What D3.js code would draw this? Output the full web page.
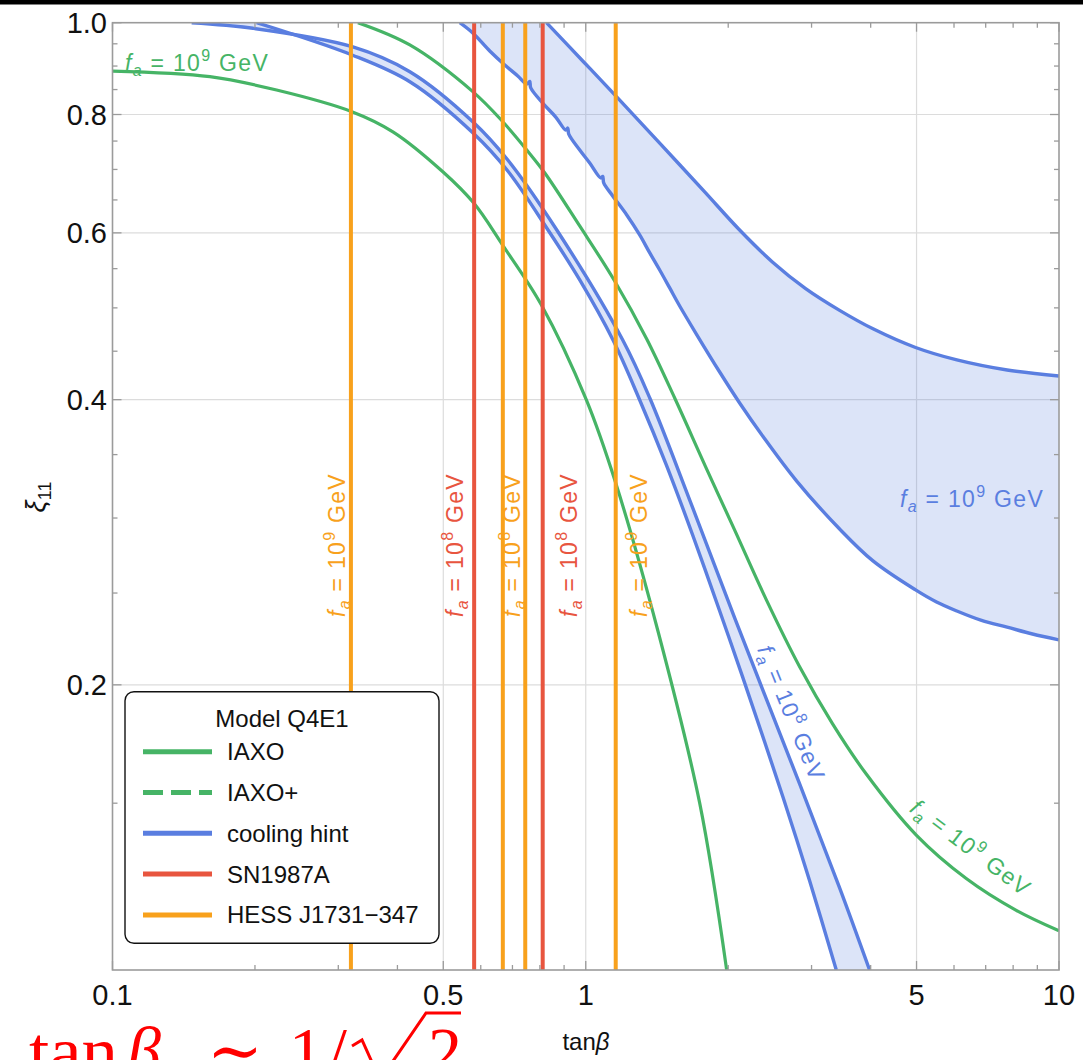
<!DOCTYPE html>
<html><head><meta charset="utf-8">
<script src="https://cdn.jsdelivr.net/npm/d3@7"></script>
<style>
body{margin:0;background:#fff;overflow:hidden}
svg{display:block}
.sans{font-family:"Liberation Sans",Arial,sans-serif}
.serif{font-family:"Liberation Serif","DejaVu Serif",serif}
</style>
</head><body>
<svg id="c" width="1083" height="1060"></svg>
<script>
// ---------------- data ----------------
const xTicksMajor = [0.1, 0.5, 1, 5, 10];
const xTickLabels = ["0.1", "0.5", "1", "5", "10"];
const xTicksMinor = [0.2, 0.3, 0.4, 0.6, 0.7, 0.8, 0.9, 2, 3, 4, 6, 7, 8, 9];
const yTicksMajor = [0.2, 0.4, 0.6, 0.8, 1.0];
const yTickLabels = ["0.2", "0.4", "0.6", "0.8", "1.0"];
const yTicksMinor = [0.15, 0.25, 0.3, 0.35, 0.45, 0.5, 0.55, 0.65, 0.7, 0.75, 0.85, 0.9, 0.95];
const gridX = [0.5, 1, 5];
const gridY = [0.2, 0.4, 0.6, 0.8];

// IAXO curves [tanβ, ξ11]
const iaxoLower = [[0.1,0.889],[0.1606,0.877],[0.2222,0.849],[0.3205,0.8055],[0.3913,0.767],[0.4989,0.696],[0.580,0.645],[0.668,0.582],[0.806,0.5035],[1.003,0.3997],[1.157,0.3266],[1.419,0.2285],[1.741,0.150],[1.985,0.1]];
const iaxoUpper = [[0.330,1.0],[0.4249,0.9473],[0.5772,0.8457],[0.668,0.786],[0.7506,0.7339],[0.8195,0.694],[0.971,0.6101],[1.151,0.5338],[1.3453,0.4636],[1.5415,0.4016],[1.789,0.3404],[2.064,0.2913],[2.408,0.2459],[2.831,0.209],[3.3237,0.1819],[3.915,0.161],[4.9934,0.1388],[6.368,0.1249],[8.122,0.1156],[10,0.1100]];

// cooling hint, fa = 1e8 GeV band
const cool8Upper = [[0.147,1.0],[0.198,0.9865],[0.3209,0.9434],[0.4249,0.8877],[0.578,0.7855],[0.6844,0.7162],[0.8686,0.6042],[1.1971,0.4624],[1.3655,0.4016],[1.6584,0.3134],[2.0636,0.2353],[2.8311,0.1572],[3.439,0.1221],[3.979,0.1]];
const cool8Lower = [[0.2016,1.0],[0.3209,0.9245],[0.4249,0.8663],[0.578,0.7648],[0.6844,0.6974],[0.8324,0.6042],[0.9712,0.5351],[1.1418,0.4624],[1.3001,0.3997],[1.4806,0.3412],[1.6852,0.2872],[1.9187,0.2393],[2.1486,0.2034],[2.6104,0.1523],[2.972,0.1242],[3.3838,0.1]];

// cooling hint, fa = 1e9 GeV band
const cool9Upper = [[0.826,1.0],[0.9855,0.9112],[1.1798,0.8286],[1.433,0.7463],[1.7838,0.6628],[2.1041,0.6057],[2.4793,0.5591],[2.9148,0.524],[3.439,0.497],[4.0454,0.4752],[4.9764,0.4541],[6.0838,0.4406],[7.7691,0.4299],[10,0.4237]];
const cool9Lower = [[0.5418,1.0],[0.5772,0.9753],[0.6269,0.9335],[0.6744,0.9023],[0.7184,0.8786],[0.7505,0.8617],[0.7615,0.8669],[0.7652,0.8534],[0.8111,0.8226],[0.8642,0.7951],[0.9073,0.7703],[0.9162,0.7741],[0.9207,0.7629],[0.9712,0.7339],[1.0196,0.711],[1.0756,0.6857],[1.0862,0.6882],[1.0914,0.6775],[1.1402,0.6564],[1.2208,0.6267],[1.3001,0.597],[1.3655,0.5714],[1.433,0.5482],[1.5045,0.5248],[1.5794,0.5023],[1.713,0.4692],[1.9187,0.4278],[2.1143,0.3968],[2.365,0.3662],[2.7907,0.3282],[3.439,0.2921],[4.0454,0.2703],[4.9764,0.2519],[5.5112,0.2446],[6.0838,0.2393],[6.8595,0.2339],[7.7691,0.2301],[8.7902,0.2263],[10,0.2231]];

const sn1987a = [0.581, 0.811];
const hess = [0.319, 0.668, 0.745, 1.157];

// vertical labels: [tanβ of baseline, exponent, colour key]
const vLabels = [[0.3097,"9","orange"],[0.5508,"8","red"],[0.7255,"8","orange"],[0.957,"8","red"],[1.345,"9","orange"]];

const legendItems = ["IAXO","IAXO+","cooling hint","SN1987A","HESS J1731\u2212347"];
const legendKeys = ["green","greenDash","blue","red","orange"];

// ---------------- styles ----------------
const C = {green:"#46b466", blue:"#5a7ee0", red:"#e8553f", orange:"#f8a11c", fill:"rgba(90,126,224,0.21)", frame:"#9b9b9b", grid:"#dcdcdc"};

const svg = d3.select("#c");
const W=1083,H=1060;
const X0=112.5, X1=1059, Y0=22.7, Y1=970;
const x = d3.scaleLog().domain([0.1,10]).range([X0,X1]);
const y = d3.scaleLog().domain([0.1,1]).range([Y1,Y0]);

svg.append("rect").attr("width",W).attr("height",H).attr("fill","#fff");
svg.append("rect").attr("x",0).attr("y",0).attr("width",W).attr("height",4.5).attr("fill","#000");

svg.append("defs").append("clipPath").attr("id","clip").append("rect")
  .attr("x",X0).attr("y",Y0).attr("width",X1-X0).attr("height",Y1-Y0);

// grid
const g = svg.append("g");
g.selectAll(".gx").data(gridX).enter().append("line")
  .attr("x1",d=>x(d)).attr("x2",d=>x(d)).attr("y1",Y0).attr("y2",Y1)
  .attr("stroke",C.grid).attr("stroke-width",1.2);
g.selectAll(".gy").data(gridY).enter().append("line")
  .attr("y1",d=>y(d)).attr("y2",d=>y(d)).attr("x1",X0).attr("x2",X1)
  .attr("stroke",C.grid).attr("stroke-width",1.2);

const plot = svg.append("g").attr("clip-path","url(#clip)");
const smooth = d3.line().x(d=>x(d[0])).y(d=>y(d[1])).curve(d3.curveCatmullRom.alpha(0.5));

function band(up, low){
  const a = smooth(up);
  const b = smooth(low.slice().reverse());
  return a + "L" + b.slice(1) + "Z";
}
plot.append("path").attr("d",band(cool9Upper,cool9Lower)).attr("fill",C.fill);
plot.append("path").attr("d",band(cool8Upper,cool8Lower)).attr("fill",C.fill);

// cooling lines
[cool9Upper,cool9Lower,cool8Upper,cool8Lower].forEach(s=>{
  plot.append("path").attr("d",smooth(s)).attr("fill","none").attr("stroke",C.blue).attr("stroke-width",3.4).attr("stroke-linejoin","round");
});
// IAXO lines
[iaxoLower,iaxoUpper].forEach(s=>{
  plot.append("path").attr("d",smooth(s)).attr("fill","none").attr("stroke",C.green).attr("stroke-width",3.2);
});
// vertical lines
plot.selectAll(".hess").data(hess).enter().append("line")
  .attr("x1",d=>x(d)).attr("x2",d=>x(d)).attr("y1",Y0).attr("y2",Y1)
  .attr("stroke",C.orange).attr("stroke-width",4);
plot.selectAll(".sn").data(sn1987a).enter().append("line")
  .attr("x1",d=>x(d)).attr("x2",d=>x(d)).attr("y1",Y0).attr("y2",Y1)
  .attr("stroke",C.red).attr("stroke-width",4);

// frame + ticks
svg.append("rect").attr("x",X0).attr("y",Y0).attr("width",X1-X0).attr("height",Y1-Y0)
  .attr("fill","none").attr("stroke",C.frame).attr("stroke-width",1.6);
const tk = svg.append("g").attr("stroke",C.frame).attr("stroke-width",1.3);
function xt(vals,len){
  vals.forEach(v=>{
    tk.append("line").attr("x1",x(v)).attr("x2",x(v)).attr("y1",Y1).attr("y2",Y1-len);
    tk.append("line").attr("x1",x(v)).attr("x2",x(v)).attr("y1",Y0).attr("y2",Y0+len);
  });
}
function yt(vals,len){
  vals.forEach(v=>{
    tk.append("line").attr("y1",y(v)).attr("y2",y(v)).attr("x1",X0).attr("x2",X0+len);
    tk.append("line").attr("y1",y(v)).attr("y2",y(v)).attr("x1",X1).attr("x2",X1-len);
  });
}
xt(xTicksMajor,9); xt(xTicksMinor,5); yt(yTicksMajor,9); yt(yTicksMinor,5);

// tick labels
svg.selectAll(".xl").data(xTicksMajor).enter().append("text").attr("class","sans")
  .attr("x",d=>x(d)).attr("y",1004.5).attr("text-anchor","middle")
  .attr("font-size",29).attr("fill","#111").text((d,i)=>xTickLabels[i]);
svg.selectAll(".yl").data(yTicksMajor).enter().append("text").attr("class","sans")
  .attr("x",107).attr("y",d=>y(d)+10.4).attr("text-anchor","end")
  .attr("font-size",29).attr("fill","#111").text((d,i)=>yTickLabels[i]);

// axis labels
const xlab = svg.append("text").attr("class","sans").attr("x",586).attr("y",1050).attr("text-anchor","middle").attr("font-size",24).attr("fill","#111");
xlab.append("tspan").text("tan");
xlab.append("tspan").attr("font-style","italic").text("\u03b2");
const ylab = svg.append("text").attr("class","sans").attr("transform","translate(45,497) rotate(-90)").attr("text-anchor","middle").attr("font-size",27).attr("fill","#111");
ylab.append("tspan").attr("font-style","italic").text("\u03be");
ylab.append("tspan").attr("font-size",18).attr("dy",6).text("11");

// fa labels
function faLabel(exp, color, attrs){
  const t = svg.append("text").attr("class","sans").attr("font-size",23).attr("fill",color).style("letter-spacing","1.3px");
  Object.entries(attrs).forEach(([k,v])=>t.attr(k,v));
  t.append("tspan").attr("font-style","italic").text("f");
  t.append("tspan").attr("font-style","italic").attr("font-size",16).attr("dy",5).text("a");
  t.append("tspan").attr("dy",-5).text(" = 10");
  t.append("tspan").attr("font-size",16).attr("dy",-10).text(exp);
  t.append("tspan").attr("dy",10).text(" GeV");
  return t;
}
const colorOf = {orange:C.orange, red:C.red};
vLabels.forEach(v=>{
  faLabel(v[1], colorOf[v[2]], {transform:`translate(${x(v[0])},545) rotate(-90)`, "text-anchor":"middle"});
});
faLabel("9",C.green,{x:125,y:71});
faLabel("9",C.blue,{x:900,y:507});
faLabel("8",C.blue,{transform:"translate(784,716) rotate(68)","text-anchor":"middle"});
faLabel("9",C.green,{transform:"translate(966,854) rotate(37)","text-anchor":"middle"});

// legend
const lg = svg.append("g");
lg.append("rect").attr("x",125).attr("y",691.7).attr("width",314).attr("height",251.6).attr("rx",9)
  .attr("fill","#fff").attr("stroke","#111").attr("stroke-width",1.4);
lg.append("text").attr("class","sans").attr("x",282).attr("y",727).attr("text-anchor","middle").attr("font-size",24).attr("fill","#111").text("Model Q4E1");
const legColor = {green:C.green, greenDash:C.green, blue:C.blue, red:C.red, orange:C.orange};
legendItems.forEach((name,i)=>{
  const cy = 751.7 + i*40.8;
  const k = legendKeys[i];
  const l = lg.append("line").attr("x1",143).attr("x2",212).attr("y1",cy).attr("y2",cy)
    .attr("stroke",legColor[k]).attr("stroke-width",5);
  if(k==="greenDash") l.attr("stroke-dasharray","20,8");
  lg.append("text").attr("class","sans").attr("x",227).attr("y",cy+8.5).attr("font-size",24).attr("fill","#111").text(name);
});

// red annotation at the bottom edge
const ov = svg.append("g").attr("fill","#ff0000");
function red(txt, xx, opts){
  const t = ov.append("text").attr("class","serif").attr("x",xx).attr("y",1074).attr("font-size",68).text(txt);
  if(opts && opts.italic) t.attr("font-style","italic");
  if(opts && opts.len) t.attr("textLength",opts.len).attr("lengthAdjust","spacingAndGlyphs");
  return t;
}
red("tan",29,{len:89});
red("\u03b2",127,{italic:true});
red("\u223c",207,{len:56});
red("1",289);
red("/",328);
ov.append("path").attr("d","M352,1046 L362,1040 L380,1080 L426,1013 L461,1013")
  .attr("fill","none").attr("stroke","#ff0000").attr("stroke-width",3);
red("2",428);
</script>
</body></html>
